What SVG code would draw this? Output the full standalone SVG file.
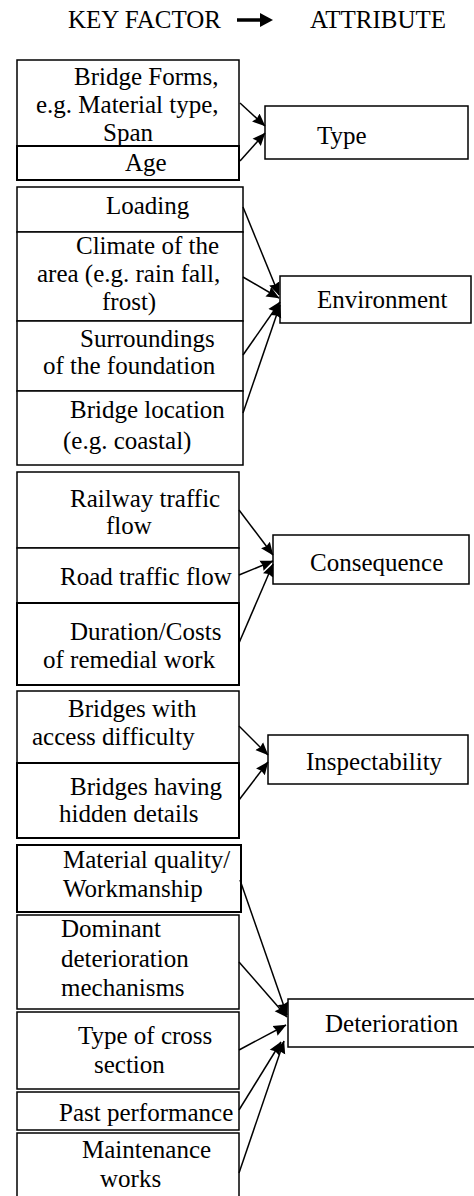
<svg xmlns="http://www.w3.org/2000/svg" width="474" height="1196" viewBox="0 0 474 1196">
<style>
.b{fill:#fff;stroke:#000;stroke-width:1.5}
.t{font-family:"Liberation Serif","Times New Roman",serif;font-size:25px;fill:#000}
.c{stroke:#000;stroke-width:1.5;fill:none;marker-end:url(#ah)}
</style>
<defs>
<marker id="ah" markerUnits="userSpaceOnUse" markerWidth="13" markerHeight="12" viewBox="0 0 13 12" refX="12.5" refY="6" orient="auto">
<path d="M0,0.5 L13,6 L0,11.5 L1.5,6 Z" fill="#000"/>
</marker>
</defs>
<g id="header">
<text class="t" x="68" y="28">KEY FACTOR</text>
<line x1="237" y1="20" x2="264" y2="20" stroke="#000" stroke-width="3.5"/>
<path d="M260,13 L273,20 L260,27 Z" fill="#000"/>
<text class="t" x="310" y="28">ATTRIBUTE</text>
</g>
<g id="n-bridge-forms"><rect class="b" x="17" y="60" width="222" height="86"/>
<text class="t" x="74" y="85">Bridge Forms,</text><text class="t" x="36" y="113">e.g. Material type,</text><text class="t" x="103" y="141">Span</text></g>
<g id="n-age"><rect class="b" x="17" y="146" width="222" height="34" style="stroke-width:2"/><text class="t" x="125" y="171">Age</text></g>
<g id="n-type"><rect class="b" x="265" y="106" width="203" height="53"/><text class="t" x="317" y="144">Type</text></g>

<g id="n-loading"><rect class="b" x="17" y="187" width="226" height="45"/><text class="t" x="106" y="214">Loading</text></g>
<g id="n-climate"><rect class="b" x="17" y="232" width="226" height="89"/>
<text class="t" x="76" y="254">Climate of the</text><text class="t" x="37" y="282">area (e.g. rain fall,</text><text class="t" x="102" y="310">frost)</text></g>
<g id="n-surroundings"><rect class="b" x="17" y="321" width="226" height="70"/>
<text class="t" x="80" y="347">Surroundings</text><text class="t" x="43" y="374">of the foundation</text></g>
<g id="n-location"><rect class="b" x="17" y="391" width="226" height="74"/>
<text class="t" x="70" y="418">Bridge location</text><text class="t" x="63" y="449">(e.g. coastal)</text></g>
<g id="n-environment"><rect class="b" x="280" y="276" width="191" height="47"/><text class="t" x="317" y="308">Environment</text></g>

<g id="n-railway"><rect class="b" x="17" y="472" width="222" height="76"/>
<text class="t" x="70" y="507">Railway traffic</text><text class="t" x="106" y="534">flow</text></g>
<g id="n-road"><rect class="b" x="17" y="548" width="222" height="55"/><text class="t" x="60" y="585">Road traffic flow</text></g>
<g id="n-duration"><rect class="b" x="17" y="603" width="222" height="82" style="stroke-width:2"/>
<text class="t" x="70" y="640">Duration/Costs</text><text class="t" x="43" y="668">of remedial work</text></g>
<g id="n-consequence"><rect class="b" x="273" y="535" width="196" height="49"/><text class="t" x="310" y="571">Consequence</text></g>

<g id="n-access"><rect class="b" x="17" y="691" width="222" height="72"/>
<text class="t" x="68" y="717">Bridges with</text><text class="t" x="32" y="745">access difficulty</text></g>
<g id="n-hidden"><rect class="b" x="17" y="763" width="222" height="75" style="stroke-width:2"/>
<text class="t" x="70" y="795">Bridges having</text><text class="t" x="59" y="822">hidden details</text></g>
<g id="n-inspectability"><rect class="b" x="268" y="735" width="200" height="49"/><text class="t" x="306" y="770">Inspectability</text></g>

<g id="n-material"><rect class="b" x="17" y="845" width="224" height="67" style="stroke-width:2"/>
<text class="t" x="63" y="868">Material quality/</text><text class="t" x="63" y="897">Workmanship</text></g>
<g id="n-dominant"><rect class="b" x="17" y="915" width="222" height="94"/>
<text class="t" x="61" y="937">Dominant</text><text class="t" x="61" y="967">deterioration</text><text class="t" x="61" y="996">mechanisms</text></g>
<g id="n-cross"><rect class="b" x="17" y="1012" width="222" height="77"/>
<text class="t" x="78" y="1044">Type of cross</text><text class="t" x="94" y="1073">section</text></g>
<g id="n-past"><rect class="b" x="17" y="1092" width="222" height="38"/><text class="t" x="59" y="1121">Past performance</text></g>
<g id="n-maintenance"><rect class="b" x="17" y="1133" width="222" height="70"/>
<text class="t" x="82" y="1158">Maintenance</text><text class="t" x="100" y="1187">works</text></g>
<g id="n-deterioration"><rect class="b" x="288" y="999" width="190" height="48"/><text class="t" x="325" y="1032">Deterioration</text></g>

<g id="connectors">
<line class="c" x1="240" y1="103" x2="265" y2="126"/>
<line class="c" x1="240" y1="161" x2="265" y2="133"/>
<line class="c" x1="243" y1="207" x2="279" y2="295"/>
<line class="c" x1="243" y1="277" x2="279" y2="298"/>
<line class="c" x1="243" y1="355" x2="280" y2="302"/>
<line class="c" x1="243" y1="413" x2="280" y2="305"/>
<line class="c" x1="239" y1="510" x2="273" y2="555"/>
<line class="c" x1="239" y1="575" x2="273" y2="561"/>
<line class="c" x1="239" y1="643" x2="273" y2="564"/>
<line class="c" x1="239" y1="726" x2="268" y2="755"/>
<line class="c" x1="239" y1="800" x2="268" y2="762"/>
<line class="c" x1="240" y1="880" x2="287" y2="1015"/>
<line class="c" x1="239" y1="962" x2="287" y2="1017"/>
<line class="c" x1="239" y1="1050" x2="286" y2="1025"/>
<line class="c" x1="239" y1="1110" x2="281" y2="1042"/>
<line class="c" x1="239" y1="1173" x2="284" y2="1041"/>
</g>
</svg>
